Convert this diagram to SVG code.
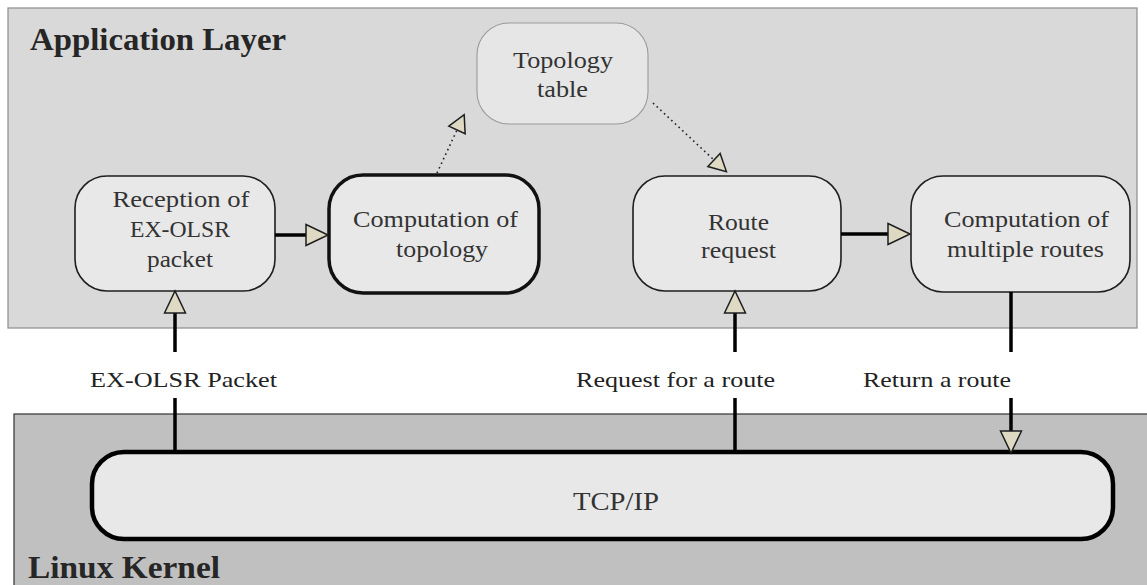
<svg xmlns="http://www.w3.org/2000/svg" width="1147" height="585" viewBox="0 0 1147 585">
  <style>
    .layer-app { fill: #d9d9d9; stroke: #8c8c8c; stroke-width: 1.2; }
    .layer-kernel { fill: #c0c0c0; stroke: #333; stroke-width: 1.2; }
    .title { font-family: "Liberation Serif", "Times New Roman", serif; font-weight: bold; font-size: 32px; fill: #262626; }
    .box { fill: #e8e8e8; stroke: #1e1e1e; stroke-width: 1.6; }
    .box-bold { fill: #e8e8e8; stroke: #111; stroke-width: 3.5; }
    .box-store { fill: #e6e6e6; stroke: #9a9a9a; stroke-width: 1.1; }
    .box-bus { fill: #e8e8e8; stroke: #000; stroke-width: 4.5; }
    .txt { font-family: "Liberation Serif", "Times New Roman", serif; font-size: 23px; fill: #333; text-anchor: middle; }
    .lbl { font-family: "Liberation Serif", "Times New Roman", serif; font-size: 22px; fill: #222; text-anchor: middle; }
    .flow { stroke: #000; stroke-width: 3.5; fill: none; }
    .dots { stroke: #222; stroke-width: 1.6; stroke-dasharray: 1.6 3.4; fill: none; }
    .head { fill: #ddd9c3; stroke: #1e1e1e; stroke-width: 1.5; stroke-linejoin: miter; }
  </style>
  <defs>
    <marker id="arrow" markerUnits="userSpaceOnUse" viewBox="-2 -13 27 26" refX="0" refY="0" markerWidth="27" markerHeight="26" orient="auto">
      <path class="head" d="M0,-10.5 L22,0 L0,10.5 Z"/>
    </marker>
    <marker id="arrow-sm" markerUnits="userSpaceOnUse" viewBox="-2 -11 22 22" refX="0" refY="0" markerWidth="22" markerHeight="22" orient="auto">
      <path class="head" d="M0,-9 L17,0 L0,9 Z"/>
    </marker>
  </defs>

  <!-- layers -->
  <g id="application-layer">
    <rect class="layer-app" x="8" y="8" width="1129" height="320"/>
    <text class="title" x="30" y="50" textLength="256" lengthAdjust="spacingAndGlyphs">Application Layer</text>
  </g>
  <g id="linux-kernel">
    <rect class="layer-kernel" x="14" y="414" width="1145" height="180"/>
    <text class="title" x="28" y="578" textLength="192" lengthAdjust="spacingAndGlyphs">Linux Kernel</text>
  </g>

  <!-- nodes -->
  <g id="reception">
    <rect class="box" x="75" y="176" width="200" height="115" rx="32" ry="32"/>
    <text class="txt" x="181" y="207" textLength="137" lengthAdjust="spacingAndGlyphs">Reception of</text>
    <text class="txt" x="180" y="237" textLength="100" lengthAdjust="spacingAndGlyphs">EX-OLSR</text>
    <text class="txt" x="180" y="267" textLength="66" lengthAdjust="spacingAndGlyphs">packet</text>
  </g>
  <g id="computation-topology">
    <rect class="box-bold" x="329" y="175" width="210" height="118" rx="34" ry="34"/>
    <text class="txt" x="435.5" y="227" textLength="165" lengthAdjust="spacingAndGlyphs">Computation of</text>
    <text class="txt" x="442" y="257" textLength="92" lengthAdjust="spacingAndGlyphs">topology</text>
  </g>
  <g id="topology-table">
    <rect class="box-store" x="477" y="23" width="171" height="101" rx="32" ry="32"/>
    <text class="txt" x="563" y="68" textLength="100" lengthAdjust="spacingAndGlyphs">Topology</text>
    <text class="txt" x="562.5" y="97" textLength="51" lengthAdjust="spacingAndGlyphs">table</text>
  </g>
  <g id="route-request">
    <rect class="box" x="633" y="176" width="208" height="115" rx="32" ry="32"/>
    <text class="txt" x="738.5" y="230" textLength="61" lengthAdjust="spacingAndGlyphs">Route</text>
    <text class="txt" x="738.5" y="258" textLength="75" lengthAdjust="spacingAndGlyphs">request</text>
  </g>
  <g id="multiple-routes">
    <rect class="box" x="911" y="176" width="219" height="116" rx="32" ry="32"/>
    <text class="txt" x="1026.5" y="227" textLength="165" lengthAdjust="spacingAndGlyphs">Computation of</text>
    <text class="txt" x="1025.5" y="257" textLength="157" lengthAdjust="spacingAndGlyphs">multiple routes</text>
  </g>
  <g id="tcp-ip">
    <rect class="box-bus" x="92" y="452" width="1021" height="87" rx="32" ry="32"/>
    <text class="txt" x="616" y="510" style="font-size:25px" textLength="86" lengthAdjust="spacingAndGlyphs">TCP/IP</text>
  </g>

  <!-- connectors -->
  <g id="connectors">
    <line class="flow" x1="275" y1="235" x2="306" y2="235" marker-end="url(#arrow)"/>
    <line class="flow" x1="841" y1="234" x2="888" y2="234" marker-end="url(#arrow)"/>

    <line class="flow" x1="175" y1="452" x2="175" y2="398"/>
    <line class="flow" x1="175" y1="352" x2="175" y2="313" marker-end="url(#arrow)"/>
    <text class="lbl" x="183.5" y="387" textLength="187" lengthAdjust="spacingAndGlyphs">EX-OLSR Packet</text>

    <line class="flow" x1="735" y1="452" x2="735" y2="398"/>
    <line class="flow" x1="735" y1="352" x2="735" y2="313" marker-end="url(#arrow)"/>
    <text class="lbl" x="675.5" y="387" textLength="199" lengthAdjust="spacingAndGlyphs">Request for a route</text>

    <line class="flow" x1="1011" y1="292" x2="1011" y2="352"/>
    <line class="flow" x1="1011" y1="398" x2="1011" y2="431" marker-end="url(#arrow)"/>
    <text class="lbl" x="937" y="387" textLength="148" lengthAdjust="spacingAndGlyphs">Return a route</text>

    <line class="dots" x1="437" y1="173" x2="457" y2="130" marker-end="url(#arrow-sm)"/>
    <line class="dots" x1="653" y1="103" x2="714" y2="160" marker-end="url(#arrow-sm)"/>
  </g>
</svg>
